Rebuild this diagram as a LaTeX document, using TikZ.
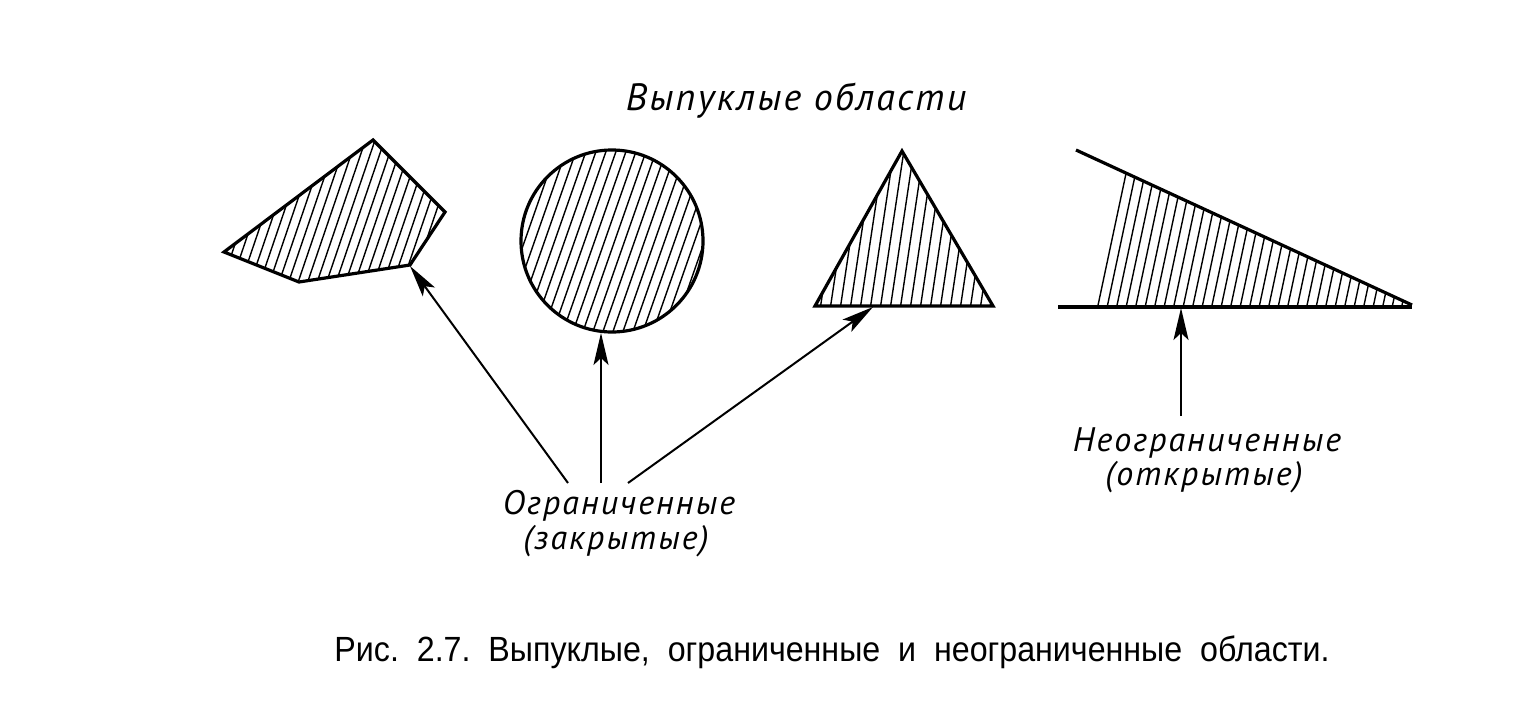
\documentclass[tikz,border=0pt]{standalone}
\usepackage{fontspec}
\setmainfont{Liberation Sans}
\newfontfamily\hand[LetterSpace=6]{PT Sans}
\usetikzlibrary{arrows.meta}
\tikzset{
  outline/.style={line width=1.6pt, line join=miter},
  hatch/.style={line width=0.7pt},
  pointer/.style={line width=1pt, -{Stealth[length=16pt,width=7.5pt,inset=3.5pt]}},
  handlbl/.style={font=\hand\itshape\fontsize{17}{20}\selectfont, inner sep=0pt},
  caplbl/.style={font=\fontsize{17.5}{20}\selectfont, inner sep=0pt},
}
\begin{document}
\begin{tikzpicture}[x=0.5pt,y=-0.5pt]
\useasboundingbox (0,0) rectangle (1530,706);
% pentagon
\begin{scope}
  \clip (224,252) -- (373,140) -- (445,212) -- (410,265) -- (299,282) -- cycle;
  \foreach \x in {140,149.5,...,460} \draw[hatch] (\x,300) -- ({\x+58},130);
\end{scope}
\draw[outline] (224,252) -- (373,140) -- (445,212) -- (410,265) -- (299,282) -- cycle;
% circle
\begin{scope}
  \clip (612,241) circle[radius=91];
  \foreach \x in {440,450,...,720} \draw[hatch] (\x,340) -- ({\x+70},140);
\end{scope}
\draw[outline] (612,241) circle[radius=91];
% triangle
\begin{scope}
  \clip (815,306) -- (902,151) -- (993,306) -- cycle;
  \foreach \x in {800,810,...,1000} \draw[hatch] (\x,310) -- ({\x+24},150);
\end{scope}
\draw[outline] (815,306) -- (902,151) -- (993,306) -- cycle;
% unbounded region
\begin{scope}
  \clip (1094.4,308) -- (1122,171) -- (1412,305) -- (1412,308) -- cycle;
  \foreach \x in {1097,1106.5,...,1420} \draw[hatch] (\x,310) -- ({\x+34},150);
\end{scope}
\draw[outline] (1076,150) -- (1412,305);
\draw[outline] (1058,307) -- (1412,307);
% coordinates
\coordinate (pentTip) at (410,266);
\coordinate (circTip) at (601,333);
\coordinate (triTip) at (873,307);
\coordinate (openTip) at (1181,308);
\coordinate (s1) at (568,483);
\coordinate (s2) at (601,483);
\coordinate (s3) at (628,483);
\coordinate (s4) at (1181,416);
\draw[pointer] (s1) -- (pentTip);
\draw[pointer] (s2) -- (circTip);
\draw[pointer] (s3) -- (triTip);
\draw[pointer] (s4) -- (openTip);
% labels
\node[handlbl, font=\hand\itshape\fontsize{19}{22}\selectfont] (title) at (796,101) {Выпуклые области};
\node[handlbl] (bounded) at (619,506) {Ограниченные};
\node[handlbl] (closed) at (616,541) {(закрытые)};
\node[handlbl] (unbounded) at (1207,443) {Неограниченные};
\node[handlbl] (open) at (1204,477) {(открытые)};
\node[caplbl] (caption) at (832,652) {\scalebox{0.92}[1]{Рис.\ \ 2.7.\ \ Выпуклые,\ \ ограниченные\ \ и\ \ неограниченные\ \ области.}};
\end{tikzpicture}
\end{document}
